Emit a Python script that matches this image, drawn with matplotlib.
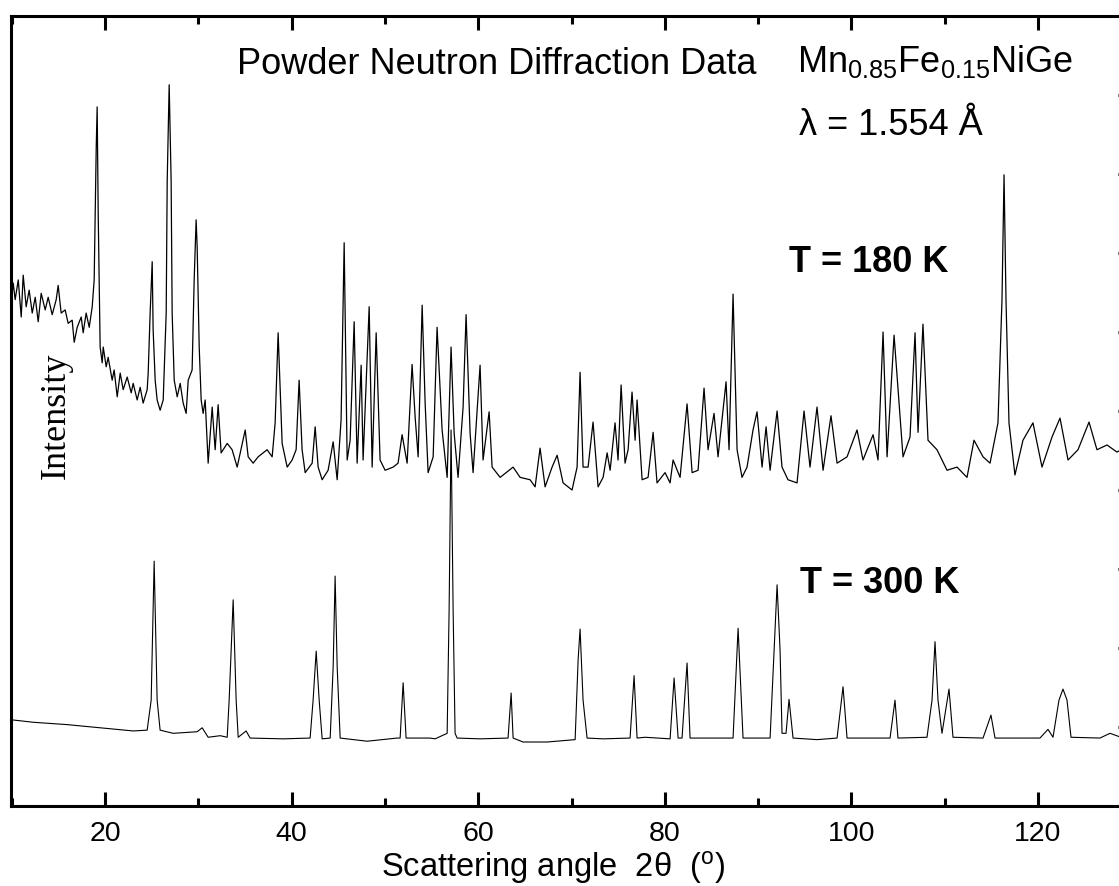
#!/usr/bin/env python3

"""Powder neutron diffraction patterns of Mn0.85Fe0.15NiGe at 180 K and 300 K."""

import matplotlib
matplotlib.use("Agg")
import matplotlib.pyplot as plt
from matplotlib.ticker import MultipleLocator, FixedLocator

# traced pattern at T = 180 K (2theta in degrees, intensity in arbitrary units)
two_theta_180 = [
    10.03, 10.14, 10.35, 10.68, 11.00, 11.21, 11.53, 11.85, 12.18, 12.50,
    12.82, 13.14, 13.57, 13.89, 14.32, 14.75, 14.96, 15.28, 15.71, 16.03,
    16.46, 16.68, 17.00, 17.43, 17.64, 17.96, 18.29, 18.61, 18.82, 19.04,
    19.14, 19.25, 19.46, 19.68, 19.79, 20.11, 20.32, 20.75, 20.96, 21.29,
    21.61, 21.93, 22.36, 22.79, 23.00, 23.43, 23.75, 24.07, 24.50, 24.61,
    24.82, 25.04, 25.14, 25.36, 25.57, 25.89, 26.22, 26.54, 26.65, 26.86,
    27.07, 27.18, 27.40, 27.72, 28.04, 28.36, 28.68, 28.90, 29.32, 29.54,
    29.75, 29.86, 30.08, 30.29, 30.50, 30.72, 31.04, 31.47, 31.79, 32.11,
    32.43, 33.08, 33.61, 34.15, 35.01, 35.33, 35.86, 36.40, 37.36, 37.90,
    38.22, 38.54, 38.97, 39.51, 40.04, 40.47, 40.79, 41.11, 41.44, 42.19,
    42.51, 42.83, 43.26, 43.90, 44.44, 44.87, 45.29, 45.62, 45.94, 46.26,
    46.69, 47.01, 47.44, 47.65, 48.30, 48.62, 49.05, 49.47, 50.01, 50.87,
    51.40, 51.83, 52.37, 52.90, 53.23, 53.55, 53.98, 54.30, 54.62, 55.16,
    55.58, 56.12, 56.66, 57.08, 57.41, 57.83, 58.37, 58.69, 59.12, 59.44,
    60.19, 60.51, 61.16, 61.48, 62.34, 63.73, 64.48, 65.55, 66.09, 66.62,
    67.16, 67.91, 68.45, 69.09, 70.05, 70.59, 70.91, 71.23, 71.77, 72.30,
    72.84, 73.38, 73.81, 74.13, 74.66, 74.98, 75.31, 75.73, 76.06, 76.48,
    76.81, 77.02, 77.56, 78.20, 78.74, 79.16, 80.02, 80.56, 80.88, 81.63,
    82.38, 82.92, 83.56, 84.20, 84.63, 85.27, 85.70, 86.56, 86.88, 87.31,
    87.74, 88.27, 88.81, 89.45, 89.88, 90.42, 90.85, 91.28, 92.03, 92.56,
    93.20, 94.17, 94.92, 95.56, 96.31, 96.96, 97.81, 98.46, 99.53, 100.60,
    101.24, 102.32, 102.85, 103.39, 103.82, 104.57, 105.53, 106.28, 106.82, 107.14,
    107.67, 108.21, 109.17, 110.25, 111.32, 112.39, 113.14, 114.11, 114.86, 115.71,
    116.14, 116.36, 116.57, 116.89, 117.53, 118.39, 119.46, 120.43, 121.50, 122.36,
    123.22, 124.29, 125.47, 126.32, 127.40, 128.47, 128.90,
]
intensity_180 = [
    6.49, 6.62, 6.41, 6.66, 6.19, 6.72, 6.32, 6.53, 6.24, 6.44,
    6.13, 6.49, 6.28, 6.44, 6.22, 6.41, 6.59, 6.24, 6.28, 6.11,
    6.15, 5.87, 6.06, 6.19, 5.99, 6.24, 6.06, 6.32, 6.66, 8.34,
    8.85, 7.51, 5.81, 5.61, 5.81, 5.56, 5.68, 5.39, 5.52, 5.18,
    5.48, 5.27, 5.43, 5.23, 5.35, 5.14, 5.30, 5.10, 5.27, 5.48,
    6.24, 6.89, 6.03, 5.39, 5.14, 5.01, 5.14, 6.24, 7.92, 9.13,
    7.92, 6.24, 5.39, 5.18, 5.35, 5.10, 4.97, 5.39, 5.52, 6.66,
    7.42, 7.08, 5.81, 5.14, 4.97, 5.14, 4.34, 5.05, 4.51, 5.08,
    4.47, 4.59, 4.51, 4.29, 4.76, 4.42, 4.34, 4.42, 4.51, 4.42,
    4.85, 5.99, 4.59, 4.29, 4.38, 4.51, 5.39, 4.51, 4.22, 4.34,
    4.80, 4.29, 4.13, 4.25, 4.61, 4.13, 4.89, 7.13, 4.38, 4.63,
    6.13, 4.34, 5.58, 4.38, 6.32, 4.29, 5.99, 4.38, 4.25, 4.29,
    4.34, 4.70, 4.34, 5.59, 4.92, 4.42, 6.34, 5.10, 4.22, 4.42,
    6.06, 4.76, 4.16, 5.81, 4.72, 4.16, 5.05, 6.22, 4.72, 4.22,
    5.58, 4.38, 4.99, 4.29, 4.16, 4.29, 4.16, 4.13, 4.04, 4.53,
    4.04, 4.29, 4.44, 4.09, 4.00, 4.29, 5.49, 4.29, 4.29, 4.86,
    4.04, 4.16, 4.47, 4.25, 4.85, 4.38, 5.33, 4.34, 4.51, 5.24,
    4.63, 5.14, 4.13, 4.16, 4.73, 4.09, 4.22, 4.09, 4.38, 4.16,
    5.09, 4.22, 4.25, 5.29, 4.51, 4.97, 4.42, 5.37, 4.51, 6.48,
    4.51, 4.16, 4.29, 4.76, 4.99, 4.29, 4.80, 4.25, 5.00, 4.29,
    4.13, 4.09, 5.00, 4.29, 5.05, 4.25, 4.94, 4.34, 4.42, 4.76,
    4.38, 4.70, 4.38, 6.00, 4.42, 5.96, 4.42, 4.67, 5.99, 4.73,
    6.10, 4.63, 4.51, 4.25, 4.29, 4.16, 4.63, 4.42, 4.34, 4.85,
    6.41, 7.99, 6.41, 4.85, 4.19, 4.63, 4.85, 4.29, 4.67, 4.91,
    4.38, 4.51, 4.86, 4.51, 4.57, 4.48, 4.51,
]

# traced pattern at T = 300 K
two_theta_300 = [
    10.03, 12.28, 15.93, 19.46, 23.00, 24.50, 24.93, 25.25, 25.57, 25.89,
    27.29, 29.86, 30.40, 31.04, 32.33, 33.08, 33.29, 33.72, 34.04, 34.26,
    35.11, 35.54, 39.08, 41.97, 42.29, 42.62, 42.94, 43.26, 44.12, 44.44,
    44.65, 44.87, 45.19, 48.08, 51.30, 51.62, 51.94, 52.26, 54.83, 55.37,
    56.66, 56.87, 57.08, 57.30, 57.51, 57.73, 60.19, 63.19, 63.52, 63.73,
    64.80, 67.37, 70.38, 70.70, 70.91, 71.23, 71.66, 73.38, 76.27, 76.70,
    77.02, 77.88, 80.56, 80.99, 81.42, 81.84, 82.38, 82.70, 87.31, 87.85,
    88.38, 91.28, 91.71, 92.03, 92.35, 92.56, 92.99, 93.31, 93.74, 96.31,
    98.46, 99.10, 99.53, 104.14, 104.67, 104.99, 108.10, 108.64, 108.96, 109.28,
    109.71, 110.46, 110.89, 114.11, 114.96, 115.39, 120.21, 121.07, 121.61, 122.25,
    122.68, 123.11, 123.54, 126.64, 127.72, 128.90,
]
intensity_300 = [
    1.09, 1.06, 1.03, 0.99, 0.95, 0.96, 1.34, 3.10, 1.34, 0.96,
    0.92, 0.94, 0.99, 0.87, 0.89, 0.87, 1.34, 2.61, 1.34, 0.87,
    0.95, 0.86, 0.85, 0.86, 1.34, 1.96, 1.34, 0.85, 0.86, 1.76,
    2.91, 1.76, 0.86, 0.82, 0.86, 0.86, 1.56, 0.86, 0.86, 0.85,
    0.92, 2.48, 4.76, 2.48, 0.92, 0.86, 0.85, 0.86, 1.43, 0.86,
    0.81, 0.81, 0.84, 1.85, 2.24, 1.34, 0.86, 0.85, 0.86, 1.65,
    0.86, 0.87, 0.85, 1.62, 0.86, 0.86, 1.81, 0.86, 0.86, 2.25,
    0.86, 0.86, 1.97, 2.80, 1.97, 0.92, 0.92, 1.35, 0.86, 0.84,
    0.86, 1.51, 0.86, 0.86, 1.34, 0.86, 0.87, 1.34, 2.08, 1.34,
    0.92, 1.48, 0.87, 0.86, 1.15, 0.86, 0.86, 0.97, 0.87, 1.34,
    1.48, 1.34, 0.87, 0.86, 0.92, 0.87,
]

x_limits = (9.9, 128.9)
y_limits = (0, 10)
y_marks = [1, 2, 3, 4, 5, 6, 7, 8, 9]


def setup_fonts():
    plt.rcParams.update({
        "font.family": ["Liberation Sans", "DejaVu Sans"],
        "mathtext.fontset": "custom",
        "mathtext.rm": "Liberation Sans",
        "mathtext.it": "Liberation Sans:italic",
        "mathtext.bf": "Liberation Sans:bold",
        "axes.linewidth": 2.2,
    })


def main():
    setup_fonts()
    fig = plt.figure(figsize=(11.19, 8.86), dpi=100)
    # right spine sits just outside the picture, as in the scanned figure
    ax = fig.add_axes([0.0098, 0.0903, 0.992, 0.8916])

    ax.plot(two_theta_180, intensity_180, "-", color="black", lw=0.9)
    ax.plot(two_theta_300, intensity_300, "-", color="black", lw=0.8)

    ax.set_xlim(*x_limits)
    ax.set_ylim(*y_limits)

    ax.xaxis.set_major_locator(MultipleLocator(20))
    ax.xaxis.set_minor_locator(MultipleLocator(10))
    ax.tick_params(axis="x", which="both", direction="in", top=True, bottom=True,
                   labelsize=20.5, pad=11, width=2.2)
    ax.tick_params(axis="x", which="major", length=10)
    ax.tick_params(axis="x", which="minor", length=6)

    ax.yaxis.set_major_locator(FixedLocator(y_marks))
    ax.tick_params(axis="y", which="both", direction="in", left=False, right=True,
                   labelleft=False, labelright=False, length=2.5, width=2.2)

    ax.set_xlabel(r"Scattering angle  2θ  ($\mathregular{^o}$)", fontsize=23.5)
    ax.xaxis.label.set_verticalalignment("baseline")
    ax.xaxis.set_label_coords(0.488, -0.0900)

    # annotations inside the frame
    ax.text(0.0405, 0.494, "Intensity", rotation=90, ha="center", va="center",
            fontsize=26, family=["Liberation Serif", "DejaVu Serif"], transform=ax.transAxes)
    ax.text(0.2036, 0.9266, "Powder Neutron Diffraction Data", ha="left", va="baseline",
            fontsize=26, transform=ax.transAxes)
    ax.text(0.708, 0.929, r"$\mathregular{Mn_{0.85}Fe_{0.15}NiGe}$", ha="left", va="baseline",
            fontsize=26, transform=ax.transAxes)
    ax.text(0.710, 0.849, "λ = 1.554 Å", ha="left", va="baseline",
            fontsize=26, transform=ax.transAxes)
    ax.text(0.701, 0.676, "T = 180 K", ha="left", va="baseline", fontsize=26,
            fontweight="bold", transform=ax.transAxes)
    ax.text(0.711, 0.270, "T = 300 K", ha="left", va="baseline", fontsize=26,
            fontweight="bold", transform=ax.transAxes)

    fig.savefig("out.png", dpi=100)
    plt.close(fig)


if __name__ == "__main__":
    main()
